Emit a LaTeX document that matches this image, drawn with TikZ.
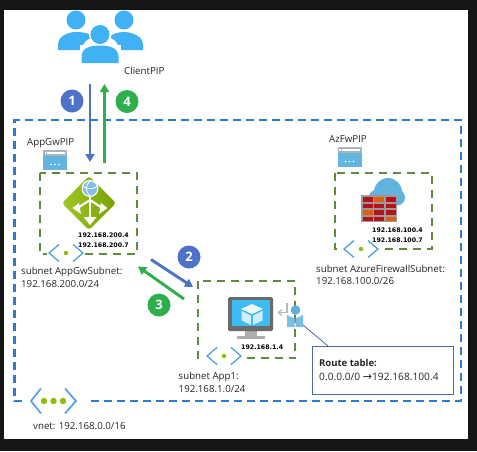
\documentclass[tikz,border=0pt]{standalone}
\usepackage{fontspec}
\setmainfont{Open Sans}
\newfontfamily\ipfont{DejaVu Sans}
\usetikzlibrary{arrows.meta,shadings}
\definecolor{pagedark}{HTML}{161616}
\definecolor{vnetblue}{HTML}{2B7CD0}
\definecolor{subgreen}{HTML}{5F8B3A}
\definecolor{flowblue}{HTML}{4D72C8}
\definecolor{flowgreen}{HTML}{2FAE4E}
\definecolor{people}{HTML}{3FB1F4}
\definecolor{chev}{HTML}{4FA3D8}
\definecolor{dotgreen}{HTML}{8DBE00}
\definecolor{pipblue}{HTML}{62B5DF}
\definecolor{pipgrey}{HTML}{A9B4BC}
\definecolor{fwred}{HTML}{B5121B}
\definecolor{fworange}{HTML}{DD5F0A}
\definecolor{fwgrey}{HTML}{9A9A9A}
\definecolor{cloudblue}{HTML}{62B4DE}
\definecolor{screenblue}{HTML}{3CBBF5}
\definecolor{monitor}{HTML}{6B6B6B}
\definecolor{routeline}{HTML}{4A6BA8}
\tikzset{
  x=1pt,y=-1pt,
  vnetbox/.style={draw=vnetblue,line width=2.1pt,dash pattern=on 8pt off 5pt},
  subnetbox/.style={draw=subgreen,line width=2pt,dash pattern=on 8pt off 6pt},
  flowb/.style={draw=flowblue,line width=2.9pt,-{Triangle[length=8pt,width=9pt]}},
  flowg/.style={draw=flowgreen,line width=2.9pt,-{Triangle[length=8pt,width=9pt]}},
  badge/.style={circle,minimum size=23pt,inner sep=0pt,text=white,font=\fontsize{13}{13}\selectfont\bfseries},
  lab/.style={anchor=base west,inner sep=0pt,text=black!85,font=\fontsize{9.7}{11}\selectfont},
  iplab/.style={anchor=base west,inner sep=0pt,text=black,font=\ipfont\fontsize{6.25}{7}\selectfont\bfseries},
  pics/chevrons/.style={code={
    \fill[white] (-19,-8) rectangle (19,8);
    \draw[chev,line width=1.3pt] (-7,-8.5) -- (-17,0) -- (-7,8.5);
    \draw[chev,line width=1.3pt] (7,-8.5) -- (17,0) -- (7,8.5);
    \fill[dotgreen] (0,0) circle (2.2);
  }},
  pics/pip/.style={code={
    \fill[pipblue] (-12,-10) rectangle (12,10);
    \fill[pipgrey] (-12,-10) rectangle (12,-4);
    \fill[white] (-8,-8) rectangle (10,-6.3);
    \fill[white] (-10.5,-8.4) rectangle (-9,-6);
    \fill[white] (-4,4.5) circle (0.8) (0,4.5) circle (0.8) (4,4.5) circle (0.8);
  }},
}
\begin{document}
\begin{tikzpicture}
\useasboundingbox (0,0) rectangle (477,451);
\fill[pagedark] (0,0) rectangle (477,451);
\fill[white] (4,10) rectangle (468,439);

% vnet boundary
\draw[vnetbox] (22,401) -- (14.5,401) -- (14.5,120) -- (461,120) -- (461,401) -- (88,401);

% subnet boxes
\draw[subnetbox] (40,173) rectangle (137,254);
\draw[subnetbox] (335,173) rectangle (432,249);
\draw[subnetbox] (197.5,281) rectangle (295,358);

% people
\begin{scope}
  \fill[people] (76,20) circle (9.5);
  \fill[people] (124,20) circle (9.5);
  \fill[people] (58,50) -- (58,45) .. controls (58,35) and (70,32) .. (76,32) .. controls (85,32) and (90,34) .. (92,36) -- (92,38) .. controls (84,40) and (83,44) .. (82,50) -- cycle;
  \fill[people] (143,50) -- (143,45) .. controls (143,35) and (130,32) .. (124,32) .. controls (118,32) and (113,34) .. (111,36) -- (111,38) .. controls (117,41) and (118,44) .. (119,50) -- cycle;
  \fill[white] (100,34.5) circle (11);
  \fill[white] (79.5,45) rectangle (120.5,64);
  \fill[people] (100,34.5) circle (9.5);
  \fill[people] (81.5,63) -- (81.5,57) .. controls (81.5,48) and (90,45.5) .. (100,45.5) .. controls (110,45.5) and (118.5,48) .. (118.5,57) -- (118.5,63) -- cycle;
\end{scope}
\node[lab] (clientpip) at (124,74) {ClientPIP};

% public ip icons
\pic at (55,160) {pip};
\node[lab] (appgwpip) at (27,145) {AppGwPIP};
\pic at (349.5,157) {pip};
\node[lab] (azfwpip) at (329,142) {AzFwPIP};

% application gateway
\begin{scope}
  \shade[left color=dotgreen!85!white,right color=dotgreen!85!black,rounded corners=3pt] (89,176) -- (116,203) -- (89,230) -- (62,203) -- cycle;
  \fill[white] (90,188.5) circle (8.5);
  \fill[chev!70!white] (90,188.5) circle (7.2);
  \draw[white,line width=0.8pt] (90,181.3) .. controls (85,185.5) and (85,191.5) .. (90,195.7);
  \draw[white,line width=0.8pt] (83,186.5) .. controls (87,189.5) and (93,189.5) .. (97,186.5);
  \draw[white,line width=2.2pt] (90,197) -- (90,220);
  \fill[white] (83.5,217) -- (96.5,217) -- (90,225) -- cycle;
  \draw[white,line width=2.2pt] (90,200) -- (76,209);
  \fill[white] (72.5,208) -- (79,203) -- (81,214) -- cycle;
  \draw[white,line width=2.2pt] (90,200) -- (104,209);
  \fill[white] (107.5,208) -- (101,203) -- (99,214) -- cycle;
\end{scope}

% firewall
\begin{scope}
  \fill[cloudblue] (388,192) circle (14);
  \fill[cloudblue] (397,197.5) circle (8);
  \fill[cloudblue] (376,197) circle (7);
  \fill[cloudblue] (372,195) rectangle (400,205);
  \fill[fwgrey] (361,195) rectangle (397,222);
  \foreach \row/\y in {0/197,1/203.5,2/210,3/216.5}{
    \foreach \col/\x in {0/362.5,1/374,2/385.5}{
      \fill[fwred] (\x,\y) rectangle ++(10,4.8);
    }
  }
  \fill[fworange] (374,197) rectangle ++(10,4.8);
  \fill[fworange] (362.5,210) rectangle ++(10,4.8);
  \fill[fworange] (385.5,216.5) rectangle ++(10,4.8);
\end{scope}

% virtual machine
\begin{scope}
  \fill[fwgrey!80!white] (245,330) rectangle (257,336);
  \fill[fwgrey!80!white] (237,336) rectangle (265,339);
  \fill[monitor,rounded corners=1.5pt] (228,297) rectangle (273,331);
  \fill[screenblue] (231.5,300) rectangle (270,326);
  \fill[white!90!screenblue] (252,304) -- (263,309) -- (252,314) -- (241,309) -- cycle;
  \fill[white!75!screenblue] (241.5,311) -- (251,315.5) -- (251,325) -- (241.5,320.5) -- cycle;
  \fill[white!75!screenblue] (262.5,311) -- (253,315.5) -- (253,325) -- (262.5,320.5) -- cycle;
\end{scope}

% route icon
\begin{scope}
  \draw[fwgrey!70!white,line width=1.2pt] (287,303) -- (287,312.5) -- (279,312.5);
  \draw[fwgrey!70!white,line width=1.2pt] (282,309.5) -- (278.5,312.5) -- (282,315.5);
  \fill[chev!90!white] (295.5,310) circle (4.8);
  \fill[cloudblue!85!white] (287,315) -- (294.5,318.5) -- (294.5,327) -- (287,327) -- cycle;
  \fill[cloudblue!85!white] (303,315) -- (295.5,318.5) -- (295.5,327) -- (303,327) -- cycle;
\end{scope}
\coordinate (routeicon) at (303,325);

% subnet and vnet icons
\pic at (66,253) {chevrons};
\pic at (361,249) {chevrons};
\pic at (224,356) {chevrons};
\begin{scope}
  \fill[white] (24,392) rectangle (84,410);
  \draw[chev,line width=1.7pt] (41,388.5) -- (31,401) -- (41,413.5);
  \draw[chev,line width=1.7pt] (65,388.5) -- (76,401) -- (65,413.5);
  \fill[dotgreen] (44,401) circle (3.2) (53.5,401) circle (3.2) (63,401) circle (3.2);
\end{scope}

% ip labels
\node[iplab] (ipagwa) at (78,237) {192.168.200.4};
\node[iplab] (ipagwb) at (78,247) {192.168.200.7};
\node[iplab] (ipfwa) at (372,232) {192.168.100.4};
\node[iplab] (ipfwb) at (372,242) {192.168.100.7};
\node[iplab] (ipapp) at (241,349) {192.168.1.4};

% subnet labels
\node[lab] (subagw) at (21,274) {subnet AppGwSubnet:};
\node[lab] (subagwip) at (21,287) {192.168.200.0/24};
\node[lab] (subfw) at (316,272) {subnet AzureFirewallSubnet:};
\node[lab] (subfwip) at (316,284.5) {192.168.100.0/26};
\node[lab] (subapp) at (178.5,379) {subnet App1:};
\node[lab] (subappip) at (178.5,392) {192.168.1.0/24};
\node[lab] (vnetlab) at (33,429) {vnet: 192.168.0.0/16};

% route table
\node[draw=routeline,line width=0.9pt,fill=white,minimum width=141pt,minimum height=48pt,inner sep=0pt,anchor=north west] (routebox) at (312,346) {};
\node[lab,font=\fontsize{9.5}{11}\selectfont\bfseries] (routetitle) at (319,366) {Route table:};
\node[lab,font=\fontsize{10.2}{11}\selectfont] (routeval) at (319,380) {0.0.0.0/0 {\ipfont\fontsize{11}{11}\selectfont→}192.168.100.4};
\coordinate (routeanchor) at (328,346);
\draw[routeline,line width=0.8pt] (routeicon) -- (routeanchor);

% flows
\coordinate (a1) at (90,84); \coordinate (b1) at (90,162);
\coordinate (a4) at (104.5,163); \coordinate (b4) at (104.5,84);
\coordinate (a2) at (151,259.5); \coordinate (b2) at (193,287);
\coordinate (a3) at (184,299); \coordinate (b3) at (138,266.5);
\draw[flowb] (a1) -- (b1);
\draw[flowg] (a4) -- (b4);
\draw[flowb] (a2) -- (b2);
\draw[flowg] (a3) -- (b3);
\node[badge,fill=flowblue] (n1) at (72,101) {1};
\node[badge,fill=flowgreen] (n4) at (127,101.5) {4};
\node[badge,fill=flowblue] (n2) at (189,257) {2};
\node[badge,fill=flowgreen] (n3) at (159,305) {3};
\end{tikzpicture}
\end{document}
